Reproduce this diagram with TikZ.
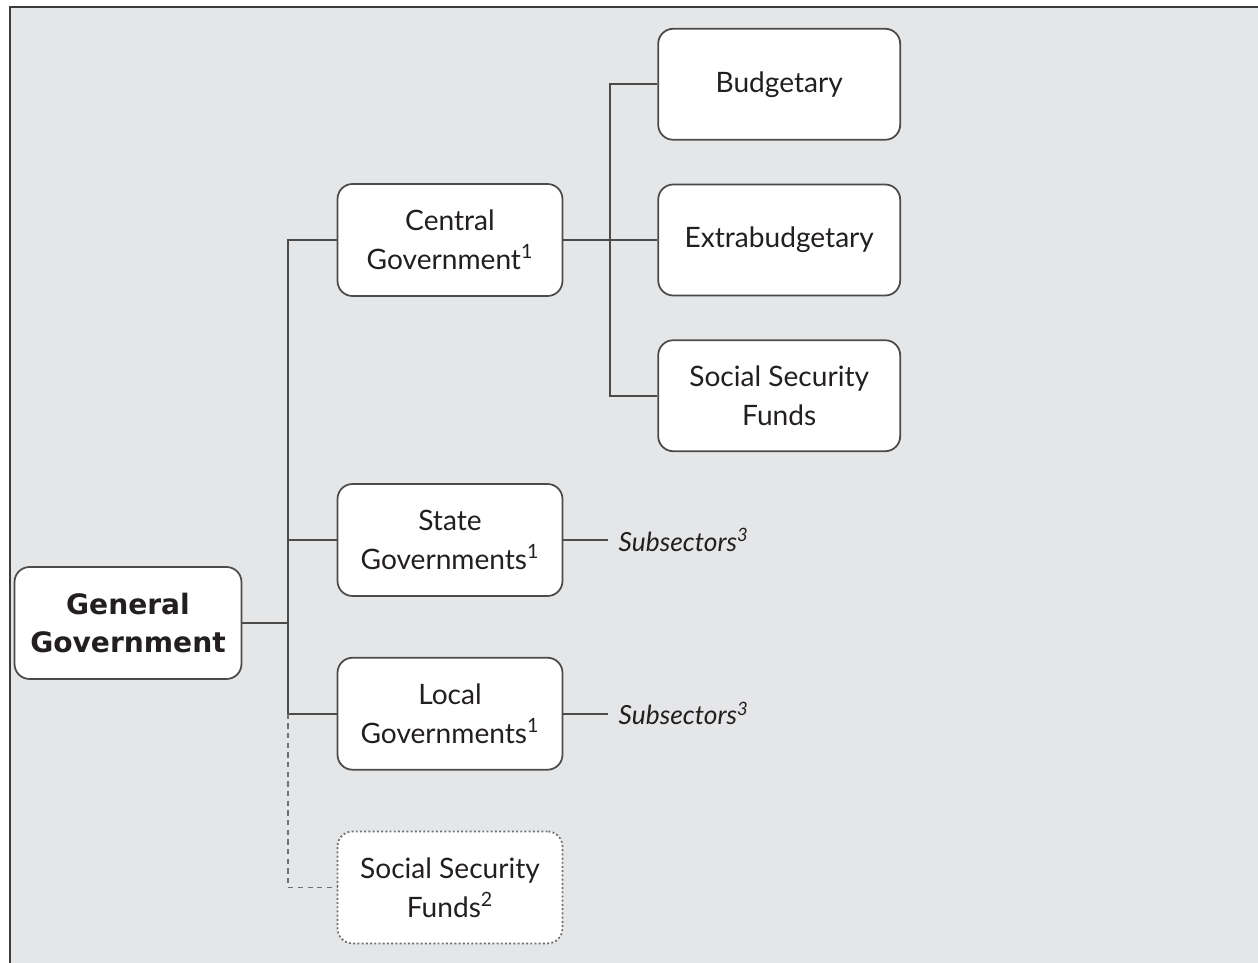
\documentclass[tikz,border=0pt]{standalone}
\usepackage{fontspec}
\setmainfont{Lato}
\newfontfamily\genfont{DejaVu Sans}
\usepackage{tikz}
\usetikzlibrary{positioning}

\definecolor{panelgray}{RGB}{229,230,232}
\definecolor{framegray}{RGB}{60,60,60}
\definecolor{boxgray}{RGB}{75,75,75}
\definecolor{inkdark}{RGB}{35,31,32}

\begin{document}
\begin{tikzpicture}[x=0.02cm, y=-0.02cm, node distance = 1.2cm and 1.88cm,
    unitbox/.style={rectangle,rounded corners=0.3cm,draw=boxgray,line width=1pt,fill=white,
      minimum width=4.5cm,minimum height=2.24cm,align=center,text=inkdark,
      font=\fontsize{16}{22}\selectfont},
    subbox/.style={unitbox,minimum width=4.84cm,minimum height=2.22cm},
    optbox/.style={unitbox,draw=boxgray!80,dash pattern=on 1.1pt off 1.3pt},
    subtag/.style={text=inkdark,font=\fontsize{15}{20}\selectfont\itshape,anchor=west,inner sep=0.2cm},
    link/.style={draw=boxgray,line width=1.05pt},
    optlink/.style={draw=boxgray!80,line width=1.05pt,dash pattern=on 3pt off 2.5pt},
   ]

    \useasboundingbox (0,0) rectangle (1258,963);
    \fill[panelgray] (10,7) rectangle (1258,963);
    \draw[framegray,line width=1.1pt] (10,963) -- (10,7) -- (1258,7);

    \node (gen) [unitbox,minimum width=4.54cm,font=\genfont\bfseries\fontsize{16}{21.5}\selectfont] at (128,623) {General\\Government};

    \node (central) [unitbox] at (450,240) {Central\\Government\textsuperscript{1}};
    \node (state)   [unitbox] at (450,540) {State\\Governments\textsuperscript{1}};
    \node (local)   [unitbox,below=of state] {Local\\Governments\textsuperscript{1}};
    \node (ssfopt)  [optbox,below=of local] {Social Security\\Funds\textsuperscript{2}};

    \node (extra)  [subbox,right=of central] {Extrabudgetary};
    \node (budget) [subbox,above=0.86cm of extra] {Budgetary};
    \node (ssfcg)  [subbox,below=0.86cm of extra] {Social Security\\Funds};

    \node (subst) [subtag,right=0.9cm of state.east] {Subsectors\textsuperscript{3}};
    \node (subloc) [subtag,right=0.9cm of local.east] {Subsectors\textsuperscript{3}};

    \coordinate (trunk) at (288,0);
    \coordinate (branch) at (610,0);

    \draw[link] (gen.east) -- (gen.east -| trunk);
    \draw[link] (central.west) -- (central.west -| trunk) -- (local.west -| trunk) -- (local.west);
    \draw[link] (state.west) -- (state.west -| trunk);
    \draw[optlink] (local.west -| trunk) |- (ssfopt.west);

    \draw[link] (central.east) -- (extra.west);
    \draw[link] (budget.west) -- (budget.west -| branch) -- (ssfcg.west -| branch) -- (ssfcg.west);

    \draw[link] (state.east) -- (subst.west);
    \draw[link] (local.east) -- (subloc.west);
  \end{tikzpicture}
\end{document}
